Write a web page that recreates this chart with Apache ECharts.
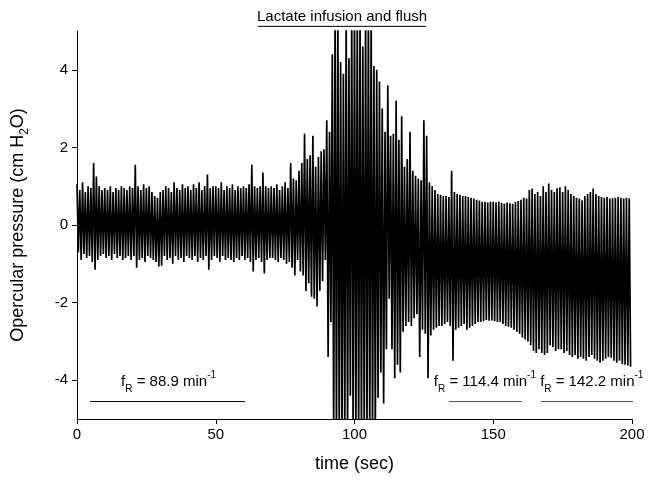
<!DOCTYPE html>
<html>
<head>
<meta charset="utf-8">
<script src="https://cdn.jsdelivr.net/npm/echarts@6/dist/echarts.min.js"></script>
<style>
html, body { margin: 0; padding: 0; background: #fff; }
#main { width: 649px; height: 487px; }
</style>
</head>
<body>
<div id="main"></div>
<script>
// peak (hi) and trough (lo) of the pressure trace in each 1 s bin, t = 0..199 s
var hi = [
	1.05, 0.9, 1.1, 0.85, 1.0, 0.95, 1.6, 1.25, 1.0, 0.9,
	0.95, 0.9, 1.0, 0.85, 0.95, 0.9, 1.0, 0.95, 0.9, 1.0,
	0.95, 1.55, 1.0, 0.9, 1.05, 0.95, 1.0, 0.85, 0.75, 0.7,
	0.85, 0.9, 1.0, 0.95, 0.85, 1.1, 0.95, 0.9, 1.05, 0.95,
	1.0, 0.9, 1.05, 0.95, 1.1, 0.9, 1.0, 1.3, 0.95, 1.0,
	1.0, 0.95, 1.1, 0.9, 1.0, 0.95, 1.05, 0.9, 1.0, 0.95,
	1.0, 0.95, 1.05, 1.55, 1.0, 0.95, 1.0, 1.35, 1.0, 0.95,
	1.0, 0.95, 1.05, 0.9, 1.0, 1.1, 0.95, 1.6, 1.2, 1.15,
	1.4, 1.6, 2.35, 1.7, 1.8, 2.3, 1.5, 1.75, 1.9, 1.95,
	2.7, 2.4, 4.4, 5.5, 5.5, 4.2, 3.9, 5.5, 4.3, 5.5,
	5.5, 5.5, 5.5, 4.6, 5.5, 5.5, 5.5, 4.1, 4.0, 3.7,
	3.0, 2.4, 3.6, 2.3, 2.35, 3.2, 2.2, 2.8, 1.5, 1.7,
	2.4, 1.4, 1.27, 1.2, 1.15, 2.7, 2.3, 1.1, 1.0, 0.9,
	0.8, 0.78, 0.75, 0.75, 0.72, 1.4, 0.85, 0.8, 0.78, 0.75,
	0.75, 0.72, 0.7, 0.68, 0.65, 0.63, 0.6, 0.6, 0.58, 0.6,
	0.6, 0.58, 0.6, 0.57, 0.55, 0.58, 0.56, 0.55, 0.6, 0.62,
	0.65, 0.7, 0.68, 0.9, 0.94, 0.8, 0.85, 0.75, 1.0, 0.85,
	1.07, 0.9, 0.85, 0.95, 0.97, 0.85, 1.0, 0.9, 0.8, 0.75,
	0.7, 0.68, 0.64, 0.75, 0.8, 0.85, 0.94, 0.8, 0.75, 0.72,
	0.7, 0.72, 0.68, 0.69, 0.7, 0.72, 0.7, 0.68, 0.7, 0.69
];
var lo = [
	-0.7, -0.9, -0.75, -0.85, -0.8, -0.95, -1.15, -0.9, -0.8, -0.75,
	-0.85, -0.8, -0.9, -0.75, -0.85, -0.8, -0.9, -0.85, -0.8, -0.9,
	-0.8, -1.1, -0.9, -0.85, -0.95, -0.8, -0.85, -0.9, -0.95, -1.07,
	-1.05, -0.8, -0.9, -0.85, -1.0, -0.8, -0.9, -0.85, -0.95, -0.8,
	-0.85, -0.9, -0.8, -0.95, -0.85, -0.9, -0.8, -1.15, -0.9, -0.8,
	-0.85, -0.95, -0.8, -0.9, -0.85, -0.9, -0.95, -0.85, -0.9, -0.8,
	-0.9, -0.85, -0.95, -1.2, -0.9, -0.85, -0.95, -1.25, -0.9, -0.85,
	-0.85, -0.9, -0.95, -0.85, -0.9, -1.0, -0.95, -1.1, -1.3, -0.9,
	-1.2, -1.3, -1.7, -1.5, -1.85, -1.9, -2.1, -1.7, -1.45, -0.9,
	-3.4, -2.5, -5.5, -5.5, -5.5, -5.5, -5.5, -5.5, -4.4, -5.5,
	-5.5, -5.5, -5.5, -5.5, -5.5, -5.5, -5.5, -5.5, -4.45, -3.8,
	-4.6, -3.2, -1.9, -3.2, -3.95, -3.6, -3.8, -2.75, -2.6, -2.5,
	-2.6, -2.4, -2.3, -3.4, -2.7, -2.8, -3.95, -2.85, -2.7, -2.65,
	-2.6, -2.6, -2.55, -2.5, -2.6, -3.5, -2.7, -2.65, -2.6, -2.55,
	-2.7, -2.65, -2.6, -2.55, -2.5, -2.5, -2.48, -2.45, -2.47, -2.46,
	-2.48, -2.5, -2.5, -2.55, -2.6, -2.62, -2.65, -2.7, -2.75, -2.8,
	-2.9, -2.95, -3.0, -3.1, -3.25, -3.3, -3.2, -3.3, -3.35, -3.3,
	-3.1, -3.15, -3.25, -3.2, -3.2, -3.3, -3.25, -3.35, -3.4, -3.35,
	-3.45, -3.4, -3.45, -3.5, -3.4, -3.35, -3.45, -3.5, -3.55, -3.5,
	-3.45, -3.4, -3.42, -3.5, -3.55, -3.5, -3.58, -3.6, -3.62, -3.65
];
var yTicks = [-4, -2, 0, 2, 4];

// breathing rate periods: rate, span (sec), label centre (sec)
var rates = ['88.9', '114.4', '142.2'];
var rateSpans = [[4.7, 60.5], [134, 160.5], [167.2, 204]];
var rateLabelX = [33, 147, 185.5];
var rateColors = ['#000', '#555', '#555'];
var rateLineY = -4.55;
var rateTextY = -4.05;

var infusionSpan = [65.2, 125.8];
var infusionLineY = 5.12;
var infusionTextY = 5.36;

var font = '"Liberation Sans", Arial, sans-serif';

// trace: peak then trough inside each second
var trace = [];
for (var i = 0; i < hi.length; i++) {
	trace.push([i, hi[i]]);
	trace.push([i + 0.5, lo[i]]);
}

var richTxt = {
	b: { fontSize: 15, fontFamily: font, color: '#000', lineHeight: 24 },
	s: { fontSize: 10, fontFamily: font, color: '#000', verticalAlign: 'bottom', lineHeight: 24 },
	p: { fontSize: 10, fontFamily: font, color: '#000', verticalAlign: 'top', lineHeight: 24 }
};

// invisible point that only carries a text label
function textPoint(x, y, label) {
	return {
		type: 'scatter',
		data: [[x, y]],
		symbolSize: 0,
		clip: false,
		silent: true,
		itemStyle: { color: '#000', opacity: 1 },
		label: Object.assign({
			show: true,
			position: 'inside',
			color: '#000',
			opacity: 1,
			textBorderWidth: 0,
			fontSize: 15,
			fontFamily: font
		}, label),
		z: 4
	};
}

var series = [{
	type: 'line',
	data: trace,
	showSymbol: false,
	symbol: 'none',
	sampling: null,
	lineStyle: { color: '#000', width: 1.7 },
	silent: true,
	z: 2
}];

rates.forEach(function (r, k) {
	series.push({
		type: 'line',
		data: [[rateSpans[k][0], rateLineY], [rateSpans[k][1], rateLineY]],
		symbol: 'none',
		clip: false,
		lineStyle: { color: rateColors[k], width: 1 },
		silent: true,
		z: 3
	});
	series.push(textPoint(rateLabelX[k], rateTextY, {
		formatter: '{b|f}{s|R}{b| = ' + r + ' min}{p|-1}',
		rich: richTxt
	}));
});

series.push({
	type: 'line',
	data: [[infusionSpan[0], infusionLineY], [infusionSpan[1], infusionLineY]],
	symbol: 'none',
	clip: false,
	lineStyle: { color: '#000', width: 1 },
	silent: true
});
series.push(textPoint((infusionSpan[0] + infusionSpan[1]) / 2, infusionTextY, {
	formatter: 'Lactate infusion and flush'
}));

var chart = echarts.init(document.getElementById('main'), null, { renderer: 'canvas' });
chart.setOption({
	animation: false,
	backgroundColor: '#fff',
	grid: { left: 77, right: 17, top: 31, bottom: 68, containLabel: false },
	xAxis: {
		type: 'value',
		min: 0,
		max: 200,
		interval: 50,
		name: 'time (sec)',
		nameLocation: 'middle',
		nameGap: 36,
		nameTextStyle: { fontSize: 18, fontFamily: font, color: '#000' },
		axisLine: { show: true, onZero: false, lineStyle: { color: '#000', width: 1 } },
		axisTick: { show: true, length: 5, inside: false, lineStyle: { color: '#000' } },
		axisLabel: { fontSize: 15, fontFamily: font, color: '#000', margin: 8 },
		splitLine: { show: false }
	},
	yAxis: {
		type: 'value',
		min: -5,
		max: 5,
		name: 'Opercular pressure (cm H{s|2}O)',
		nameLocation: 'middle',
		nameGap: 46,
		nameTextStyle: {
			fontSize: 18, fontFamily: font, color: '#000',
			rich: {
				s: { fontSize: 12, fontFamily: font, color: '#000', verticalAlign: 'bottom', lineHeight: 26 }
			}
		},
		axisLine: { show: true, onZero: false, lineStyle: { color: '#000', width: 1 } },
		axisTick: { show: true, length: 5, inside: false, customValues: yTicks, lineStyle: { color: '#000' } },
		axisLabel: { fontSize: 15, fontFamily: font, color: '#000', margin: 9, customValues: yTicks },
		splitLine: { show: false }
	},
	series: series
});
</script>
</body>
</html>
